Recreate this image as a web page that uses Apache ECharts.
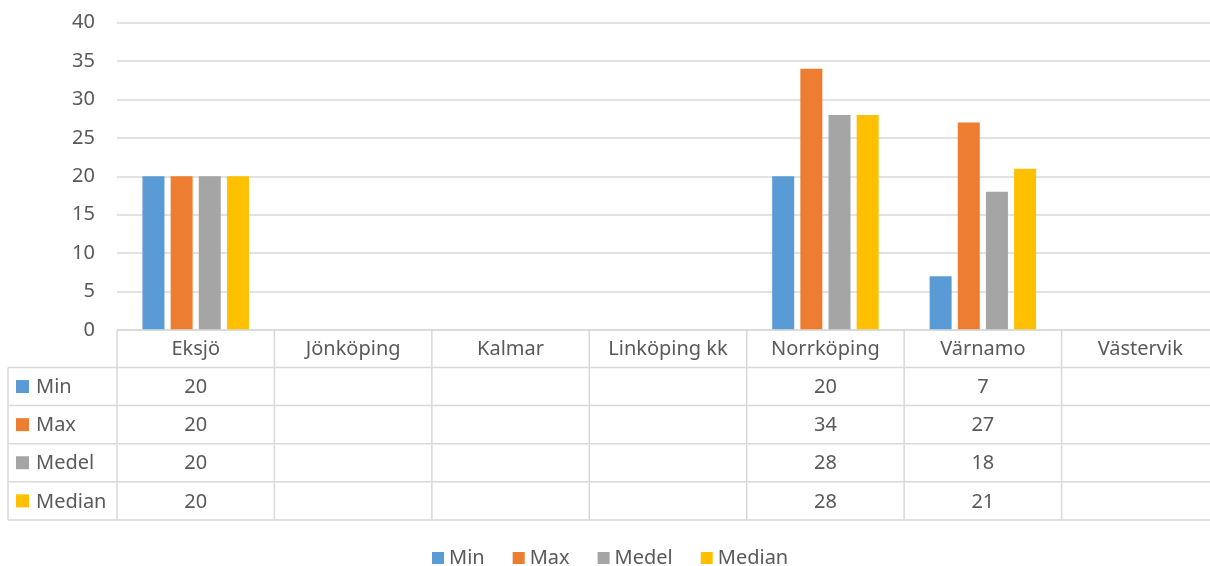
<!DOCTYPE html>
<html>
<head>
<meta charset="utf-8">
<script src="https://cdn.jsdelivr.net/npm/echarts@6/dist/echarts.min.js"></script>
<style>html,body{margin:0;padding:0;background:#fff}#c{width:1210px;height:566px}</style>
</head>
<body>
<div id="c"></div>
<script>
const categories = ['Eksjö','Jönköping','Kalmar','Linköping kk','Norrköping','Värnamo','Västervik'];
const seriesNames = ['Min','Max','Medel','Median'];
const minV = [20,null,null,null,20,7,null];
const maxV = [20,null,null,null,34,27,null];
const medelV = [20,null,null,null,28,18,null];
const medianV = [20,null,null,null,28,21,null];
const yTicks = [0,5,10,15,20,25,30,35,40];

const colors = ['#5B9BD5','#ED7D31','#A5A5A5','#FFC000'];
const values = [minV,maxV,medelV,medianV];
const FONT = '"Noto Sans", "Open Sans", sans-serif';
const FS = 20;
const TXT = '#595959';
const LINE = '#D9D9D9';
const HEAD_H = 37.5, ROW_H = 38.1, LEG_W = 109;

const chart = echarts.init(document.getElementById('c'), null, {renderer:'canvas'});

function renderTable(params, api){
  const idx = api.value(0);
  const c = api.coord([idx, 0]);
  const w = api.size([1, 0])[0];
  const x0 = c[0] - w/2, x1 = c[0] + w/2, y0 = c[1];
  const total = HEAD_H + ROW_H*4;
  const ls = {stroke: LINE, lineWidth: 1.5};
  const children = [];
  const line = (a,b,cc,d)=>children.push({type:'line', shape:{x1:a,y1:b,x2:cc,y2:d}, style:ls, silent:true});
  line(x1, y0, x1, y0+total);
  if (idx === 0) line(x0, y0, x0, y0+total);
  line(x0, y0, x1, y0);
  for (let k=0;k<=4;k++){ line(x0, y0+HEAD_H+ROW_H*k, x1, y0+HEAD_H+ROW_H*k); }
  children.push({type:'text', style:{x:c[0], y:y0+HEAD_H/2+1, text:categories[idx], align:'center', verticalAlign:'middle', fill:TXT, font:FS+'px '+FONT}, silent:true});
  for (let s=0;s<4;s++){
    const v = values[s][idx];
    if (v !== null && v !== undefined){
      children.push({type:'text', style:{x:c[0], y:y0+HEAD_H+ROW_H*s+ROW_H/2+1, text:String(v), align:'center', verticalAlign:'middle', fill:TXT, font:FS+'px '+FONT}, silent:true});
    }
  }
  if (idx === 0){
    const lx = x0 - LEG_W;
    line(lx, y0+HEAD_H, lx, y0+total);
    for (let k=0;k<=4;k++){ line(lx, y0+HEAD_H+ROW_H*k, x0, y0+HEAD_H+ROW_H*k); }
    for (let s=0;s<4;s++){
      const cy = y0+HEAD_H+ROW_H*s+ROW_H/2;
      children.push({type:'rect', shape:{x:lx+8, y:cy-6.5, width:13, height:13}, style:{fill:colors[s]}, silent:true});
      children.push({type:'text', style:{x:lx+28, y:cy+1, text:seriesNames[s], align:'left', verticalAlign:'middle', fill:TXT, font:FS+'px '+FONT}, silent:true});
    }
  }
  return {type:'group', children};
}

const barSeries = seriesNames.map((n,i)=>({
  name:n, type:'bar', data: values[i], barWidth:22, barGap:'28%',
  itemStyle:{color:colors[i]}, silent:true
}));

chart.setOption({
  animation:false,
  textStyle:{fontFamily:FONT},
  color: colors,
  grid:{left:117, top:22.7, width:1102, height:307.3, containLabel:false, outerBoundsMode:'none'},
  xAxis:{type:'category', data:categories, axisLabel:{show:false}, axisTick:{show:false}, axisLine:{show:false}},
  yAxis:{type:'value', min:yTicks[0], max:yTicks[yTicks.length-1], interval:5,
    axisLine:{show:false}, axisTick:{show:false},
    axisLabel:{color:TXT, fontSize:FS, margin:22, fontFamily:FONT},
    splitLine:{lineStyle:{color:LINE, width:1.5}}},
  legend:{data:seriesNames, top:543, left:427, icon:'rect', itemWidth:12, itemHeight:12, itemGap:28,
    textStyle:{color:TXT, fontSize:FS, fontFamily:FONT}},
  series: barSeries.concat([{
    type:'custom', name:'table', coordinateSystem:'cartesian2d', clip:false, silent:true,
    renderItem: renderTable, encode:{x:0, y:1},
    data: categories.map((c,i)=>[i,0]), z:5
  }])
});
</script>
</body>
</html>
